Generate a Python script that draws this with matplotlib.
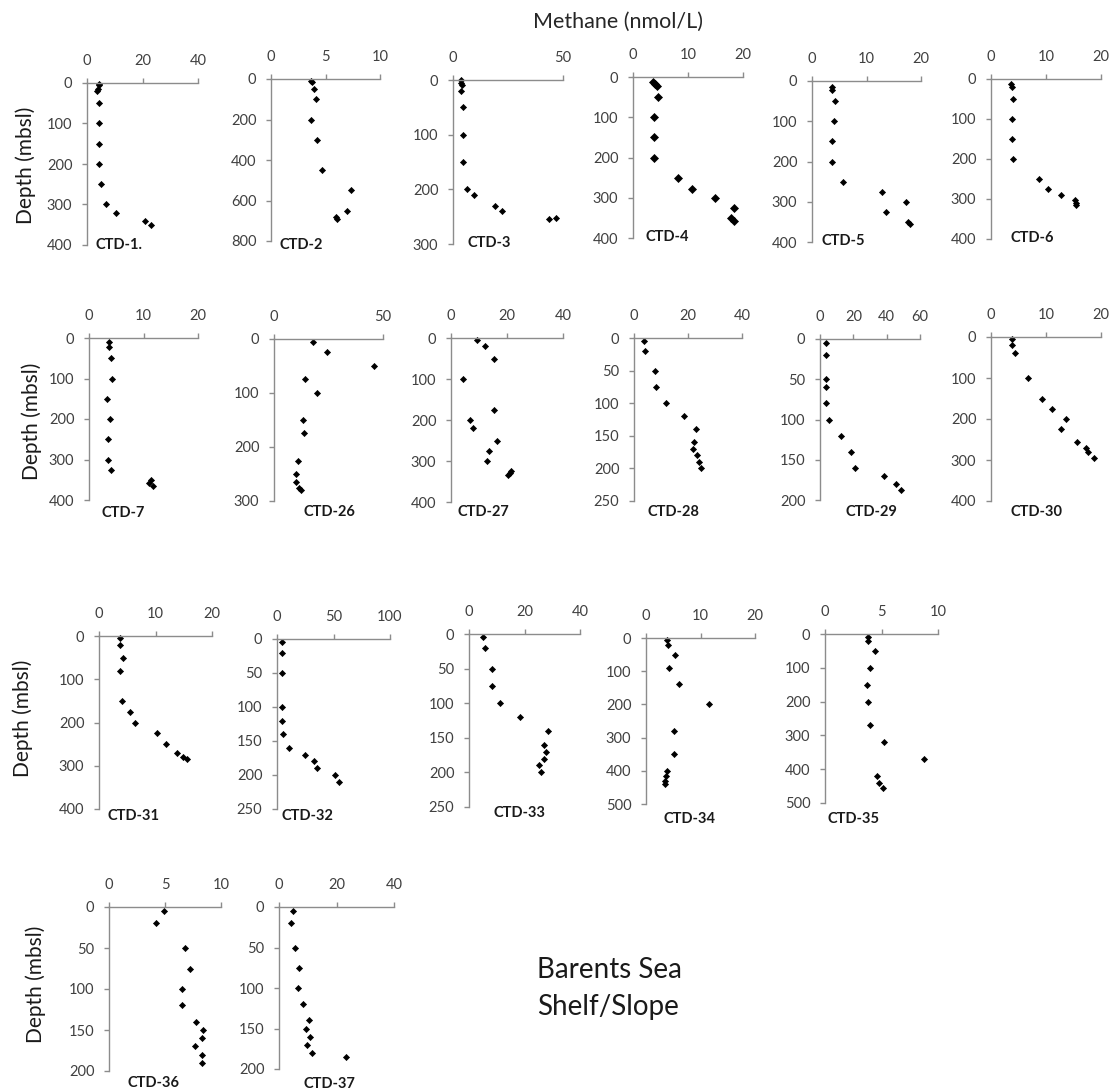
import matplotlib
matplotlib.use("Agg")
import matplotlib.pyplot as plt
from matplotlib.ticker import MultipleLocator

plt.rcParams["font.family"] = ["Lato", "DejaVu Sans"]

W, H = 1113, 1090
DPI = 100

# methane (nmol/L) against depth (mbsl) for each CTD cast
CH4_CTD1 = [4.5, 4.5, 4.1, 3.7, 4.2, 4.2, 4.2, 4.2, 5.1, 6.9, 10.5, 20.8, 23.2]
DEPTH_CTD1 = [2, 6, 14, 20, 50, 100, 150, 200, 250, 300, 320, 340, 350]

CH4_CTD2 = [3.7, 3.8, 3.9, 4.1, 3.7, 4.2, 4.7, 7.3, 7.0, 6.0, 6.05]
DEPTH_CTD2 = [8, 16, 50, 100, 200, 300, 450, 550, 650, 683, 690]

CH4_CTD3 = [3.8, 3.8, 3.9, 3.6, 4.4, 4.4, 4.4, 6.2, 9.5, 19.3, 22.1, 43.8, 46.8]
DEPTH_CTD3 = [0, 5, 10, 20, 50, 100, 150, 200, 210, 230, 240, 255, 253]

CH4_CTD4 = [3.7, 4.0, 4.3, 4.5, 3.8, 3.8, 3.8, 8.1, 10.7, 14.9, 18.3, 17.8, 18.3]
DEPTH_CTD4 = [12, 17, 23, 50, 100, 150, 200, 250, 278, 300, 325, 350, 357]

CH4_CTD5 = [3.6, 3.7, 4.2, 4.0, 3.7, 3.7, 5.6, 12.8, 17.2, 13.5, 17.7, 17.9]
DEPTH_CTD5 = [15, 22, 50, 100, 150, 200, 250, 277, 300, 325, 350, 356]

CH4_CTD6 = [3.6, 3.8, 4.0, 3.8, 3.8, 4.0, 8.7, 10.4, 12.8, 15.2, 15.4, 15.4]
DEPTH_CTD6 = [12, 20, 50, 100, 150, 200, 250, 275, 290, 302, 310, 315]

CH4_CTD7 = [3.6, 3.6, 4.1, 4.3, 3.3, 3.8, 3.5, 3.5, 4.1, 11.3, 11.1, 11.8]
DEPTH_CTD7 = [11, 22, 50, 100, 150, 200, 250, 300, 325, 350, 358, 365]

CH4_CTD26 = [18.0, 24.3, 45.7, 14.4, 19.7, 13.4, 13.9, 11.1, 10.3, 10.3, 11.3, 12.3]
DEPTH_CTD26 = [5, 25, 50, 75, 100, 150, 175, 225, 250, 265, 275, 280]

CH4_CTD27 = [9.4, 12.2, 15.3, 4.4, 15.3, 6.8, 7.7, 16.6, 13.4, 12.9, 21.6, 21.0, 20.5]
DEPTH_CTD27 = [5, 20, 50, 100, 175, 200, 220, 250, 275, 300, 325, 330, 335]

CH4_CTD28 = [3.8, 4.2, 7.8, 8.2, 12.0, 18.6, 22.8, 22.4, 21.9, 23.2, 24.2, 24.7]
DEPTH_CTD28 = [5, 20, 50, 75, 100, 120, 140, 160, 170, 180, 190, 200]

CH4_CTD29 = [3.7, 3.7, 3.7, 3.7, 3.7, 5.2, 12.7, 18.8, 20.9, 38.2, 45.8, 48.4]
DEPTH_CTD29 = [5, 20, 50, 60, 80, 100, 120, 140, 160, 170, 180, 188]

CH4_CTD30 = [3.8, 3.8, 4.4, 6.8, 9.3, 11.1, 13.6, 12.7, 15.6, 17.2, 17.7, 18.7]
DEPTH_CTD30 = [5, 20, 40, 100, 150, 175, 200, 225, 257, 270, 280, 295]

CH4_CTD31 = [3.7, 3.7, 4.3, 3.8, 4.0, 5.5, 6.3, 10.2, 11.9, 13.8, 14.8, 15.6]
DEPTH_CTD31 = [5, 20, 50, 80, 150, 175, 200, 225, 250, 270, 280, 285]

CH4_CTD32 = [4.1, 4.1, 4.1, 4.1, 4.1, 5.0, 11.0, 24.5, 32.7, 35.8, 51.6, 55.3]
DEPTH_CTD32 = [5, 20, 50, 100, 120, 140, 160, 170, 180, 190, 200, 210]

CH4_CTD33 = [5.2, 5.8, 8.4, 8.4, 11.2, 18.2, 28.6, 27.1, 27.7, 27.1, 25.2, 25.9]
DEPTH_CTD33 = [5, 20, 50, 75, 100, 120, 140, 160, 170, 180, 190, 200]

CH4_CTD34 = [3.8, 4.0, 5.4, 4.3, 6.1, 11.6, 5.2, 5.2, 3.9, 3.7, 3.5, 3.5]
DEPTH_CTD34 = [5, 20, 50, 90, 140, 200, 280, 350, 400, 415, 430, 440]

CH4_CTD35 = [3.8, 3.8, 4.4, 4.0, 3.7, 3.8, 4.0, 5.2, 8.8, 4.6, 4.8, 5.1]
DEPTH_CTD35 = [10, 20, 50, 100, 150, 200, 270, 320, 370, 420, 440, 455]

CH4_CTD36 = [4.9, 4.2, 6.8, 7.2, 6.5, 6.5, 7.8, 8.4, 8.3, 7.7, 8.3, 8.3]
DEPTH_CTD36 = [5, 20, 50, 75, 100, 120, 140, 150, 160, 170, 180, 190]

CH4_CTD37 = [4.75, 4.25, 5.5, 7.0, 6.5, 8.5, 10.3, 9.3, 10.75, 9.75, 11.6, 23.25]
DEPTH_CTD37 = [5, 20, 50, 75, 100, 120, 140, 150, 160, 170, 180, 185]

STATIONS = ["CTD-1.", "CTD-2", "CTD-3", "CTD-4", "CTD-5", "CTD-6",
            "CTD-7", "CTD-26", "CTD-27", "CTD-28", "CTD-29", "CTD-30",
            "CTD-31", "CTD-32", "CTD-33", "CTD-34", "CTD-35",
            "CTD-36", "CTD-37"]
CH4 = [CH4_CTD1, CH4_CTD2, CH4_CTD3, CH4_CTD4, CH4_CTD5, CH4_CTD6,
       CH4_CTD7, CH4_CTD26, CH4_CTD27, CH4_CTD28, CH4_CTD29, CH4_CTD30,
       CH4_CTD31, CH4_CTD32, CH4_CTD33, CH4_CTD34, CH4_CTD35,
       CH4_CTD36, CH4_CTD37]
DEPTH = [DEPTH_CTD1, DEPTH_CTD2, DEPTH_CTD3, DEPTH_CTD4, DEPTH_CTD5, DEPTH_CTD6,
         DEPTH_CTD7, DEPTH_CTD26, DEPTH_CTD27, DEPTH_CTD28, DEPTH_CTD29, DEPTH_CTD30,
         DEPTH_CTD31, DEPTH_CTD32, DEPTH_CTD33, DEPTH_CTD34, DEPTH_CTD35,
         DEPTH_CTD36, DEPTH_CTD37]

# axis ranges and tick steps per cast
X_MAX = [40, 10, 50, 20, 20, 20, 20, 50, 40, 40, 60, 20, 20, 100, 40, 20, 10, 10, 40]
X_STEP = [20, 5, 50, 10, 10, 10, 10, 50, 20, 20, 20, 10, 10, 50, 20, 10, 5, 5, 20]
Y_MAX = [400, 800, 300, 400, 400, 400, 400, 300, 400, 250, 200, 400, 400, 250, 250, 500, 500, 200, 200]
Y_STEP = [100, 200, 100, 100, 100, 100, 100, 100, 100, 50, 50, 100, 100, 50, 50, 100, 100, 50, 50]

# panel boxes in pixels: left, right, top, bottom
BOXES = [(87, 198, 83, 245), (271, 380, 79, 241), (453, 563, 80, 244),
         (633, 743, 77, 238), (812, 921, 81, 242), (991, 1101, 79, 239),
         (89, 198, 338, 500), (274, 383, 339, 501), (451, 563, 338, 502),
         (634, 742, 338, 501), (820, 920, 339, 500), (991, 1101, 337, 501),
         (99, 212, 636, 809), (277, 390, 639, 809), (469, 580, 634, 807),
         (646, 755, 638, 804), (825, 938, 634, 803),
         (109, 221, 907, 1071), (279, 394, 907, 1069)]
# station label offsets (px) from the lower-left corner of each panel
LABEL_OFFSETS = [(9, 0), (9, 4), (15, -1), (12, -1), (9, -1), (19, -1),
                 (13, 13), (29, 11), (6, 10), (14, 11), (25, 12), (19, 11),
                 (8, 7), (4, 7), (24, 6), (18, 15), (2, 16),
                 (19, 12), (24, 15)]
DEPTH_LABEL_POS = [(26, 165), (32, 421), (23, 718), (36, 984)]

AXIS_GREY = "#8c8c8c"
TICK_TEXT = "#404040"

fig = plt.figure(figsize=(W / DPI, H / DPI), dpi=DPI)

for i, name in enumerate(STATIONS):
    left, right, top, bottom = BOXES[i]
    ax = fig.add_axes([left / W, 1 - bottom / H, (right - left) / W, (bottom - top) / H])
    ax.patch.set_alpha(0)
    msize = 4.4 if name == "CTD-4" else 3.1
    ax.plot(CH4[i], DEPTH[i], linestyle="none", marker="D", markersize=msize,
            markeredgewidth=0.5, color="black", clip_on=False)
    ax.set_xlim(0, X_MAX[i])
    ax.set_ylim(Y_MAX[i], 0)
    ax.xaxis.set_major_locator(MultipleLocator(X_STEP[i]))
    ax.yaxis.set_major_locator(MultipleLocator(Y_STEP[i]))
    ax.xaxis.tick_top()
    for side in ("right", "bottom"):
        ax.spines[side].set_visible(False)
    for side in ("left", "top"):
        ax.spines[side].set_color(AXIS_GREY)
        ax.spines[side].set_linewidth(1.0)
    ax.tick_params(axis="x", direction="out", length=3.5, width=1.0, color=AXIS_GREY,
                   labelcolor=TICK_TEXT, labelsize=10.5, pad=7.5)
    ax.tick_params(axis="y", direction="out", length=3.5, width=1.0, color=AXIS_GREY,
                   labelcolor=TICK_TEXT, labelsize=10.5, pad=7)

    dx, dy = LABEL_OFFSETS[i]
    fig.text((left + dx) / W, 1 - (bottom + dy) / H, name, fontsize=10.5,
             fontweight="bold", color="#1a1a1a", ha="left", va="center")

for x, y in DEPTH_LABEL_POS:
    fig.text(x / W, 1 - y / H, "Depth (mbsl)", rotation=90, fontsize=15,
             color="#1a1a1a", ha="center", va="center")

fig.text(618 / W, 1 - 22 / H, "Methane (nmol/L)", fontsize=15.5, color="#262626",
         ha="center", va="center")
fig.text(537 / W, 1 - 970 / H, "Barents Sea", fontsize=20, color="#1a1a1a",
         ha="left", va="center")
fig.text(537 / W, 1 - 1007 / H, "Shelf/Slope", fontsize=20, color="#1a1a1a",
         ha="left", va="center")

fig.savefig("out.png", dpi=DPI, facecolor="white")
